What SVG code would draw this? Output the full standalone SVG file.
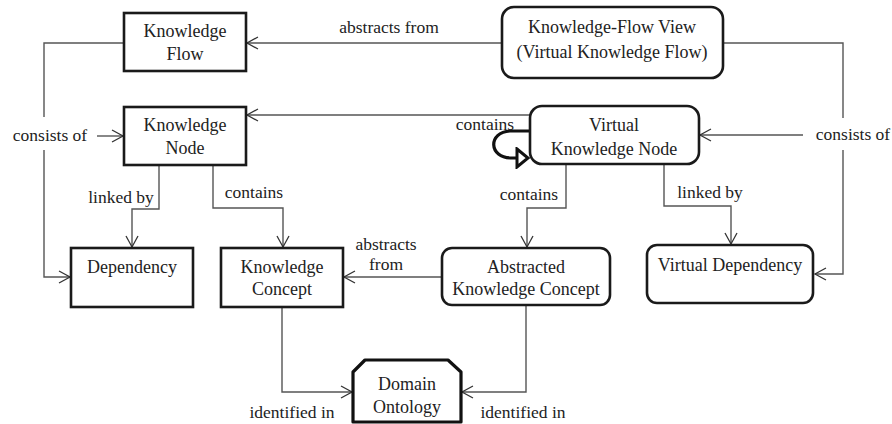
<svg xmlns="http://www.w3.org/2000/svg" width="892" height="424" viewBox="0 0 892 424">
<defs>
<marker id="arr" markerUnits="userSpaceOnUse" markerWidth="14" markerHeight="14" viewBox="0 0 14 14" refX="12" refY="7" orient="auto">
<path d="M1,1 L12,7 L1,13" fill="none" stroke="#333" stroke-width="1.3"/>
</marker>
<marker id="tri" markerUnits="userSpaceOnUse" markerWidth="16" markerHeight="22" viewBox="0 0 16 22" refX="13" refY="11" orient="auto">
<path d="M2,2 L13,11 L2,20 Z" fill="#fff" stroke="#111" stroke-width="3" stroke-linejoin="miter"/>
</marker>
</defs>
<style>
.box{fill:#fff;stroke:#1a1a1a;stroke-width:2.6}
.t{font-family:"Liberation Serif","Times New Roman",serif;font-size:18px;fill:#222;text-anchor:middle}
.l{font-family:"Liberation Serif","Times New Roman",serif;font-size:17.5px;fill:#222;text-anchor:middle}
.c{fill:none;stroke:#555;stroke-width:1.4}
</style>
<rect width="892" height="424" fill="#fff"/>
<g id="connectors">
<path class="c" d="M502,43 H247" marker-end="url(#arr)"/>
<path class="c" d="M124,43 H44 V117"/>
<path class="c" d="M97,136 H123" marker-end="url(#arr)"/>
<path class="c" d="M44,150 V277 H70" marker-end="url(#arr)"/>
<path class="c" d="M723,43 H843 V118"/>
<path class="c" d="M803,135 H700" marker-end="url(#arr)"/>
<path class="c" d="M843,150 V274 H815" marker-end="url(#arr)"/>
<path class="c" d="M530,115 H247" marker-end="url(#arr)"/>
<path class="c" d="M159,166 V209 H132 V247" marker-end="url(#arr)"/>
<path class="c" d="M213,166 V208 H283 V247" marker-end="url(#arr)"/>
<path class="c" d="M566,165 V208 H527 V247" marker-end="url(#arr)"/>
<path class="c" d="M664,165 V206 H731 V244" marker-end="url(#arr)"/>
<path class="c" d="M442,277 H344" marker-end="url(#arr)"/>
<path class="c" d="M282,307 V392 H352" marker-end="url(#arr)"/>
<path class="c" d="M526,306 V392 H462" marker-end="url(#arr)"/>
<path d="M531,131 H510 C488,132 488,158 512,158 L528,158" fill="none" stroke="#111" stroke-width="3.2" marker-end="url(#tri)"/>
<text class="l" x="389" y="33">abstracts from</text>
<text class="l" x="50" y="141">consists of</text>
<text class="l" x="853" y="140">consists of</text>
<text class="l" x="485" y="130">contains</text>
<text class="l" x="121" y="203">linked by</text>
<text class="l" x="254" y="198">contains</text>
<text class="l" x="529" y="200">contains</text>
<text class="l" x="710" y="198">linked by</text>
<text class="l" x="386" y="250">abstracts</text>
<text class="l" x="386" y="270">from</text>
<text class="l" x="292" y="418">identified in</text>
<text class="l" x="523" y="418">identified in</text>
</g>
<g id="knowledge-flow">
<rect class="box" x="124" y="13" width="122" height="58"/>
<text class="t" x="185" y="37">Knowledge</text>
<text class="t" x="185" y="60">Flow</text>
</g>
<g id="knowledge-flow-view">
<rect class="box" x="502" y="7" width="221" height="71" rx="12"/>
<text class="t" x="612" y="33">Knowledge-Flow View</text>
<text class="t" x="612" y="58">(Virtual Knowledge Flow)</text>
</g>
<g id="knowledge-node">
<rect class="box" x="124" y="107" width="122" height="58"/>
<text class="t" x="185" y="131">Knowledge</text>
<text class="t" x="185" y="154">Node</text>
</g>
<g id="virtual-knowledge-node">
<rect class="box" x="530" y="106" width="169" height="58" rx="12"/>
<text class="t" x="614" y="131">Virtual</text>
<text class="t" x="614" y="155">Knowledge Node</text>
</g>
<g id="dependency">
<rect class="box" x="71" y="248" width="122" height="59"/>
<text class="t" x="132" y="273">Dependency</text>
</g>
<g id="knowledge-concept">
<rect class="box" x="221" y="248" width="122" height="59"/>
<text class="t" x="282" y="273">Knowledge</text>
<text class="t" x="282" y="295">Concept</text>
</g>
<g id="abstracted-knowledge-concept">
<rect class="box" x="442" y="248" width="168" height="57" rx="10"/>
<text class="t" x="526" y="273">Abstracted</text>
<text class="t" x="526" y="295">Knowledge Concept</text>
</g>
<g id="virtual-dependency">
<rect class="box" x="647" y="245" width="166" height="58" rx="10"/>
<text class="t" x="730" y="271">Virtual Dependency</text>
</g>
<g id="domain-ontology">
<path d="M365,360 H448 L461,372 V422 H353 V372 Z" fill="#fff" stroke="#111" stroke-width="3.2" stroke-linejoin="round"/>
<text class="t" x="407" y="390">Domain</text>
<text class="t" x="407" y="413">Ontology</text>
</g>
</svg>
